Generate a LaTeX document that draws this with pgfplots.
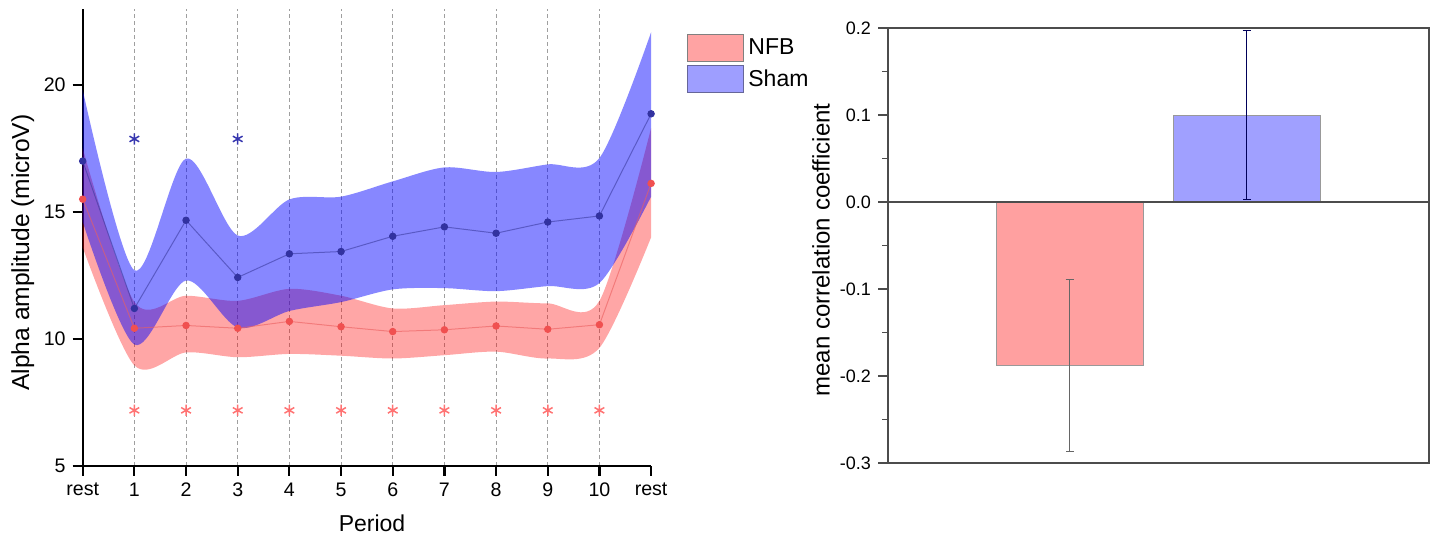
\documentclass[border=0pt]{standalone}
\usepackage{fontspec}
\setmainfont{Liberation Sans}
\usepackage{pgfplots}
\pgfplotsset{compat=1.18}
\usepgfplotslibrary{fillbetween}

\definecolor{nfbline}{RGB}{235,95,95}
\definecolor{nfbdot}{RGB}{240,80,80}
\definecolor{shamline}{RGB}{60,60,160}
\definecolor{shamdot}{RGB}{50,50,160}
\definecolor{nfbstar}{RGB}{255,115,115}
\definecolor{shamstar}{RGB}{55,55,175}
\definecolor{barred}{HTML}{FFA0A0}
\definecolor{barblue}{HTML}{A0A0FF}
\definecolor{patchred}{HTML}{FFA3A3}
\definecolor{patchblue}{HTML}{9E9EFF}

\begin{document}
\begin{tikzpicture}

% left: alpha amplitude per period
\begin{axis}[
  at={(0pt,0pt)}, anchor=south west,
  scale only axis, width=284.2pt, height=228.7pt,
  xmin=0, xmax=11, ymin=5, ymax=23,
  axis lines=left, axis line style={-, line width=1.1pt},
  xtick={0,...,11}, xticklabels={rest,1,2,3,4,5,6,7,8,9,10,rest},
  ytick={5,10,15,20},
  tick align=outside, major tick length=5pt,
  tick style={line width=1.1pt, black},
  extra x ticks={1,...,10}, extra x tick labels={},
  extra x tick style={grid=major, major tick length=0pt},
  major grid style={gray!75, line width=0.45pt, dash pattern=on 2pt off 1.5pt},
  tick label style={font=\fontsize{9.8}{11}\selectfont},
  /pgf/number format/assume math mode=true,
  xlabel={Period}, ylabel={Alpha amplitude (microV)},
  xlabel style={font=\fontsize{11.5}{13}\selectfont,
    at={(axis description cs:0.509,-0.1246)}, anchor=center},
  ylabel style={font=\fontsize{12.3}{14}\selectfont,
    at={(axis description cs:-0.1056,0.4666)}, anchor=center},
  legend image code/.code={\draw[#1] (0pt,-6.75pt) rectangle (28pt,6.75pt);},
  legend style={at={(axis description cs:1.0628,0.946)}, anchor=north west,
    draw=none, fill=none, inner sep=0pt, row sep=1.6pt,
    font=\fontsize{11.5}{13}\selectfont},
  legend cell align=left,
]
% NFB band
\addplot[draw=none, smooth, name path=nu, forget plot] coordinates {
  (0,17.5)(1,11.45)(2,11.7)(3,11.5)(4,11.97)(5,11.7)(6,11.2)(7,11.33)(8,11.47)(9,11.4)(10,11.5)(11,18.3)};
\addplot[draw=none, smooth, name path=nl, forget plot] coordinates {
  (0,13.6)(1,8.96)(2,9.47)(3,9.28)(4,9.41)(5,9.34)(6,9.23)(7,9.36)(8,9.5)(9,9.23)(10,9.65)(11,14.0)};
\addplot[fill=red, fill opacity=0.35, draw=none, forget plot] fill between[of=nu and nl];
% Sham band
\addplot[draw=none, smooth, name path=su, forget plot] coordinates {
  (0,19.8)(1,12.7)(2,17.1)(3,14.07)(4,15.49)(5,15.6)(6,16.2)(7,16.75)(8,16.57)(9,16.87)(10,17.12)(11,22.07)};
\addplot[draw=none, smooth, name path=sl, forget plot] coordinates {
  (0,14.6)(1,9.78)(2,12.3)(3,10.45)(4,11.1)(5,11.45)(6,11.95)(7,12.0)(8,11.88)(9,12.08)(10,12.2)(11,15.6)};
\addplot[fill=blue, fill opacity=0.47, draw=none, forget plot] fill between[of=su and sl];

% means
\addplot[nfbline, draw opacity=0.6, line width=0.5pt, mark=*, mark size=1.6pt,
  mark options={fill=nfbdot, draw=nfbdot, opacity=1}, forget plot] coordinates {
  (0,15.5)(1,10.42)(2,10.53)(3,10.42)(4,10.69)(5,10.48)(6,10.29)(7,10.36)(8,10.51)(9,10.38)(10,10.56)(11,16.12)};
\addplot[shamline, draw opacity=0.6, line width=0.5pt, mark=*, mark size=1.6pt,
  mark options={fill=shamdot, draw=shamdot, opacity=1}, forget plot] coordinates {
  (0,17.0)(1,11.2)(2,14.67)(3,12.42)(4,13.35)(5,13.44)(6,14.04)(7,14.41)(8,14.16)(9,14.6)(10,14.84)(11,18.86)};

% significance stars
\addplot[only marks, mark=asterisk, mark size=2.8pt, line width=0.75pt, shamstar, forget plot]
  coordinates {(1,17.87)(3,17.87)};
\addplot[only marks, mark=asterisk, mark size=2.8pt, line width=0.75pt, nfbstar, forget plot]
  coordinates {(1,7.19)(2,7.19)(3,7.19)(4,7.19)(5,7.19)(6,7.19)(7,7.19)(8,7.19)(9,7.19)(10,7.19)};

\addlegendimage{fill=patchred, draw=gray, line width=0.6pt}
\addlegendentry{NFB}
\addlegendimage{fill=patchblue, draw=gray!80!blue, line width=0.6pt}
\addlegendentry{Sham}
\end{axis}

% right: correlation bars
\begin{axis}[
  at={(402.65pt,1.5pt)}, anchor=south west,
  scale only axis, width=270.5pt, height=217.5pt,
  xmin=0, xmax=1, ymin=-0.3, ymax=0.2,
  axis line style={black!70, line width=0.8pt},
  xtick=\empty,
  ytick={-0.3,-0.2,-0.1,0,0.1,0.2},
  yticklabels={-0.3,-0.2,-0.1,0.0,0.1,0.2},
  minor y tick num=1, ytick pos=left, tick align=outside,
  major tick length=5pt, minor tick length=3pt,
  tick style={black!70, line width=0.8pt},
  tick label style={font=\fontsize{9}{10}\selectfont},
  ylabel={mean correlation coefficient},
  ylabel style={font=\fontsize{12}{14}\selectfont,
    at={(axis description cs:-0.124,0.49)}, anchor=center},
]
\addplot[ybar, bar width=0.2717, bar shift=0pt, fill=barred, draw=black!40,
  error bars/.cd, y dir=both, y explicit,
  error bar style={black!60, line width=0.6pt},
  error mark options={rotate=90, black!60, mark size=2pt, line width=0.6pt}]
  coordinates {(0.3355,-0.188) +- (0,0.0985)};
\addplot[ybar, bar width=0.2717, bar shift=0pt, fill=barblue, draw=black!40,
  error bars/.cd, y dir=both, y explicit,
  error bar style={black!65!blue, line width=0.6pt},
  error mark options={rotate=90, black!65!blue, mark size=2pt, line width=0.6pt}]
  coordinates {(0.6627,0.1) +- (0,0.097)};
\addplot[black!70, line width=0.8pt] coordinates {(0,0) (1,0)};
\end{axis}

\pgfresetboundingbox
\useasboundingbox (-41.35pt,-36.5pt) rectangle (674.65pt,233pt);
\end{tikzpicture}
\end{document}
